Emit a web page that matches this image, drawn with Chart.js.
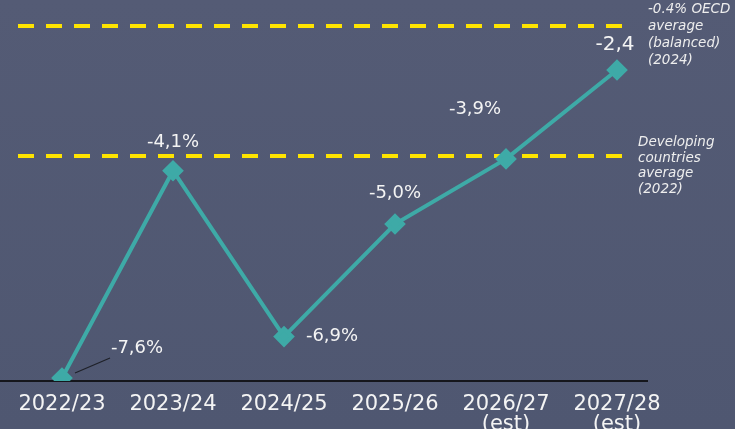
<!DOCTYPE html>
<html lang="en">
<head>
    <meta charset="UTF-8">
    <title>Budget balance</title>
    <script src="https://cdn.jsdelivr.net/npm/chart.js"></script>
    <style>
        html, body { margin: 0; padding: 0; background: #525a73; }
        #wrap { width: 735px; height: 429px; position: relative; }
    </style>
</head>
<body>
    <div id="wrap"><canvas id="myChart"></canvas></div>
    <script>
        // Data
        const years = [['2022/23'], ['2023/24'], ['2024/25'], ['2025/26'], ['2026/27', '(est)'], ['2027/28', '(est)']];
        const balance = [-7.6, -4.1, -6.9, -5.0, -3.9, -2.4];
        const balanceLabels = ['-7,6%', '-4,1%', '-6,9%', '-5,0%', '-3,9%', '-2,4'];
        const refValues = [-1.65, -3.85];
        const refTexts = [
            ['-0.4% OECD', 'average', '(balanced)', '(2024)'],
            ['Developing', 'countries', 'average', '(2022)']
        ];

        const ctx = document.getElementById('myChart').getContext('2d');

        // label offsets from each point (px)
        const labelOffsets = [[75, -30], [0, -28], [48, 0], [0, -31], [-31, -50], [-2, -25]];

        const decorPlugin = {
            id: 'decor',
            beforeDraw: (chart) => {
                const c = chart.ctx;
                const g = c.createLinearGradient(0, 0, 0, chart.height);
                g.addColorStop(0, '#545b75');
                g.addColorStop(1, '#4f5771');
                c.save();
                c.fillStyle = g;
                c.fillRect(0, 0, chart.width, chart.height);
                c.restore();
            },
            beforeDatasetsDraw: (chart) => {
                const c = chart.ctx;
                const x = chart.scales.x, y = chart.scales.y;
                c.save();
                // axis line
                c.strokeStyle = '#15161c';
                c.lineWidth = 2;
                c.beginPath();
                c.moveTo(0, y.bottom);
                c.lineTo(x.right + 31, y.bottom);
                c.stroke();
                // reference dashed lines
                c.strokeStyle = '#ffe400';
                c.lineWidth = 4;
                c.setLineDash([16, 12]);
                refValues.forEach((v) => {
                    const py = Math.round(y.getPixelForValue(v));
                    c.beginPath();
                    c.moveTo(x.left - 44, py);
                    c.lineTo(x.right + 5, py);
                    c.stroke();
                });
                c.setLineDash([]);
                // leader line for first label
                const p0 = chart.getDatasetMeta(0).data[0];
                c.strokeStyle = '#1e2028';
                c.lineWidth = 1.2;
                c.beginPath();
                c.moveTo(p0.x + 13, p0.y - 5);
                c.lineTo(p0.x + 48, p0.y - 20);
                c.stroke();
                c.restore();
            },
            afterDatasetsDraw: (chart) => {
                const c = chart.ctx;
                const meta = chart.getDatasetMeta(0);
                const y = chart.scales.y;
                c.save();
                c.fillStyle = '#f4f4f4';
                c.textAlign = 'center';
                c.textBaseline = 'middle';
                meta.data.forEach((pt, i) => {
                    c.font = (i === meta.data.length - 1 ? '20px' : '18px') + ' "DejaVu Sans"';
                    c.fillText(balanceLabels[i], pt.x + labelOffsets[i][0], pt.y + labelOffsets[i][1]);
                });
                // reference notes
                c.textAlign = 'left';
                c.font = 'italic 13.5px "DejaVu Sans"';
                c.fillStyle = '#eeeeee';
                const noteStarts = [[648, -16, 16.8], [638, -13, 15.5]];
                refTexts.forEach((lines, k) => {
                    const py = y.getPixelForValue(refValues[k]);
                    lines.forEach((t, j) => {
                        c.fillText(t, noteStarts[k][0], py + noteStarts[k][1] + j * noteStarts[k][2]);
                    });
                });
                c.restore();
            }
        };

        const chart = new Chart(ctx, {
            type: 'line',
            data: {
                labels: years,
                datasets: [{
                    data: balance,
                    borderColor: '#3eaaa7',
                    backgroundColor: '#3eaaa7',
                    borderWidth: 4,
                    pointStyle: 'rectRot',
                    pointRadius: 8,
                    pointHoverRadius: 8,
                    tension: 0
                }]
            },
            options: {
                responsive: true,
                maintainAspectRatio: false,
                animation: false,
                layout: { padding: { left: 62, right: 118, top: 0, bottom: 0 } },
                plugins: { legend: { display: false }, tooltip: { enabled: false } },
                scales: {
                    x: {
                        offset: false,
                        grid: { display: false },
                        border: { display: false },
                        afterFit: (scale) => { scale.height = 48; },
                        ticks: {
                            color: '#f4f4f4',
                            padding: 5,
                            maxRotation: 0,
                            autoSkip: false,
                            font: { family: 'DejaVu Sans', size: 21, lineHeight: 0.98 }
                        }
                    },
                    y: {
                        display: false,
                        min: -7.65,
                        max: -1.42
                    }
                }
            },
            plugins: [decorPlugin]
        });
    </script>
</body>
</html>
